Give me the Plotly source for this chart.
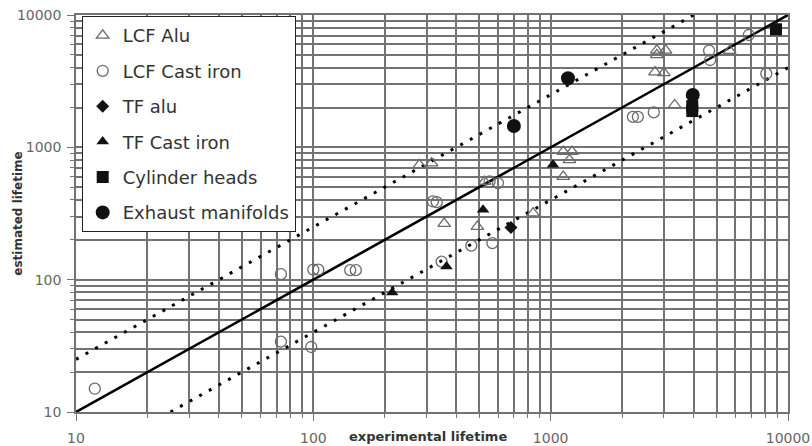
import plotly.graph_objects as go

# ---- data ----
lcf_alu_x = [280, 315, 356, 491, 527, 843, 1130, 1200, 1130, 1230, 2800, 3050, 2800, 2750, 3000, 3330, 5680]
lcf_alu_y = [738, 760, 265, 252, 552, 318, 600, 805, 930, 930, 5400, 5400, 5000, 3700, 3650, 2090, 5380]

lcf_ci_x = [12, 73, 73, 98, 100, 105, 143, 151, 319, 331, 347, 463, 553, 600, 568,
            2220, 2330, 2720, 4650, 4700, 6840, 8100]
lcf_ci_y = [15, 110, 34, 31, 119, 119, 118, 118, 390, 385, 137, 181, 552, 537, 189,
            1700, 1700, 1840, 5380, 4570, 7060, 3600]

tf_alu_x = [680]
tf_alu_y = [248]

tf_ci_x = [215, 364, 519, 1023]
tf_ci_y = [80, 126, 337, 738]

cyl_x = [8900, 3950, 3950]
cyl_y = [7800, 2050, 1880]

exh_x = [700, 1183, 3970]
exh_y = [1450, 3330, 2490]

# reference lines: y = x, and a factor-2.5 scatter band
ideal_x = [10, 10000]
ideal_y = [10, 10000]
upper_x = [10, 4000]
upper_y = [25, 10000]
lower_x = [25, 10000]
lower_y = [10, 4000]

tick_vals = [10, 100, 1000, 10000]
tick_text = ["10", "100", "1000", "10000"]

FONT = "DejaVu Sans"
GRID = "#737373"

fig = go.Figure()

line_style = dict(color="black", width=2.6)
dot_style = dict(color="black", width=3, dash="3px,8px")
fig.add_trace(go.Scatter(x=ideal_x, y=ideal_y, mode="lines", line=line_style,
                         showlegend=False, hoverinfo="skip"))
fig.add_trace(go.Scatter(x=upper_x, y=upper_y, mode="lines", line=dot_style,
                         showlegend=False, hoverinfo="skip"))
fig.add_trace(go.Scatter(x=lower_x, y=lower_y, mode="lines", line=dot_style,
                         showlegend=False, hoverinfo="skip"))

series = [
    ("LCF Alu", lcf_alu_x, lcf_alu_y, dict(symbol="triangle-up-open", size=11, color="#6a6a6a", line=dict(width=1.3))),
    ("LCF Cast iron", lcf_ci_x, lcf_ci_y, dict(symbol="circle-open", size=11, color="#6a6a6a", line=dict(width=1.3))),
    ("TF alu", tf_alu_x, tf_alu_y, dict(symbol="diamond", size=10, color="#111111")),
    ("TF Cast iron", tf_ci_x, tf_ci_y, dict(symbol="triangle-up", size=11, color="#111111")),
    ("Cylinder heads", cyl_x, cyl_y, dict(symbol="square", size=12, color="#111111")),
    ("Exhaust manifolds", exh_x, exh_y, dict(symbol="circle", size=14, color="#111111")),
]
for name, xs, ys, mk in series:
    fig.add_trace(go.Scatter(x=xs, y=ys, mode="markers", name=name, marker=mk,
                             legendgroup=name))

axis_common = dict(
    type="log", range=[1, 4], automargin=False,
    tickvals=tick_vals, ticktext=tick_text,
    showgrid=True, gridcolor=GRID, gridwidth=1.5,
    showline=True, linecolor=GRID, linewidth=1.5, mirror=True,
    ticks="outside", ticklen=7, tickcolor=GRID, tickwidth=1.2,
    tickfont=dict(family=FONT, size=14, color="#666666"),
    zeroline=False,
    minor=dict(dtick="D1", showgrid=True, gridcolor=GRID, gridwidth=1.5,
               ticks="outside", ticklen=4, tickcolor=GRID),
)

fig.update_layout(
    width=812, height=446,
    margin=dict(l=76, r=24, t=15, b=34),
    paper_bgcolor="white", plot_bgcolor="white",
    xaxis=dict(**axis_common, ticklabelstandoff=5),
    yaxis=dict(**axis_common, ticklabelstandoff=3),
    legend=dict(
        x=0.008, y=0.997, xanchor="left", yanchor="top",
        bgcolor="white", bordercolor="#222222", borderwidth=1,
        font=dict(family=FONT, size=18, color="#333333"),
        tracegroupgap=9,
    ),
    annotations=[
        dict(text="<b>experimental lifetime</b>", xref="paper", yref="paper",
             x=(428 - 76) / 712, y=-(437 - 412.5) / 397.5, xanchor="center", yanchor="middle",
             showarrow=False, font=dict(family=FONT, size=13, color="#333333")),
        dict(text="<b>estimated lifetime</b>", xref="paper", yref="paper",
             x=(18 - 76) / 712, y=(412.5 - 214) / 397.5, xanchor="center", yanchor="middle",
             textangle=-90, showarrow=False,
             font=dict(family=FONT, size=12, color="#333333")),
    ],
)

fig.write_html("out.html", config={"displayModeBar": False},
               post_script="document.body.style.margin='0';document.body.style.overflow='hidden';")
